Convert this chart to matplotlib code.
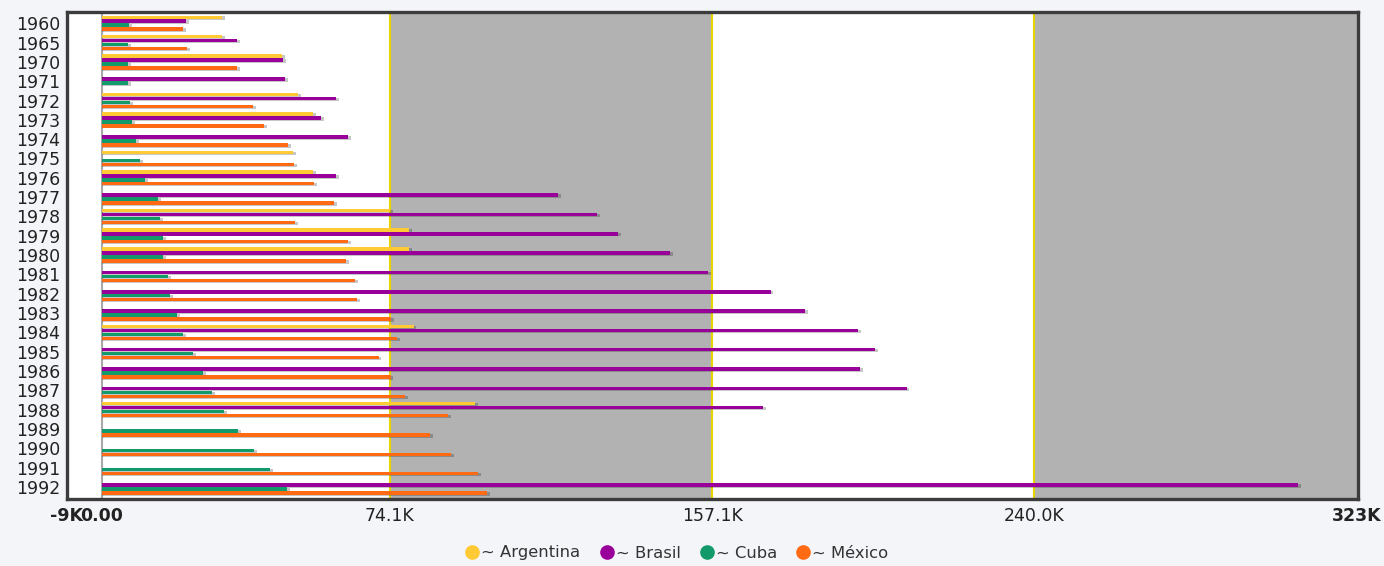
import numpy as np
import matplotlib.pyplot as plt
from matplotlib.lines import Line2D

# values in thousands, None = no bar for that year
years = ["1960", "1965", "1970", "1971", "1972", "1973", "1974", "1975", "1976",
         "1977", "1978", "1979", "1980", "1981", "1982", "1983", "1984", "1985",
         "1986", "1987", "1988", "1989", "1990", "1991", "1992"]

argentina = [30.9, 30.9, 46.4, None, 50.5, 54.3, None, 49.2, 54.3,
             None, 74.1, 79.1, 79.1, None, None, None, 80.2, None,
             None, None, 96.0, None, None, None, None]
brasil = [21.7, 34.8, 46.6, 47.1, 60.3, 56.4, 63.4, None, 60.3,
          117.5, 127.4, 132.9, 146.2, 156.1, 172.1, 181.0, 194.7, 199.0,
          195.1, 207.1, 170.2, None, None, None, 307.9]
cuba = [7.0, 6.7, 6.7, 6.7, 7.3, 7.8, 8.8, 9.8, 11.1,
        14.5, 15.0, 15.7, 15.7, 17.0, 17.5, 19.4, 20.9, 23.5,
        26.0, 28.3, 31.4, 35.0, 39.2, 43.3, 47.6]
mexico = [20.9, 21.9, 34.8, None, 38.9, 41.7, 47.9, 49.5, 54.6,
          59.8, 49.7, 63.4, 62.8, 65.2, 65.7, 74.5, 76.0, 71.2,
          74.3, 78.0, 89.2, 84.4, 89.9, 96.8, 99.1]

series_names = ["~ Argentina", "~ Brasil", "~ Cuba", "~ México"]
series_colors = ["#ffca33", "#990099", "#139a6b", "#ff6a13"]

x_ticks = [-9, 0, 74.1, 157.1, 240.0, 323]
x_labels = ["-9K", "0.00", "74.1K", "157.1K", "240.0K", "323K"]
bold_ticks = {"-9K", "0.00", "323K"}


def main():
    fig = plt.figure(figsize=(13.84, 5.66), dpi=100)
    fig.patch.set_facecolor("#f4f5f9")
    ax = fig.add_axes([0.0484, 0.1184, 0.9328, 0.8604])
    ax.set_facecolor("white")

    x_min, x_max = -9, 323.3
    # alternating bands between the grid lines
    ax.axvspan(x_ticks[2], x_ticks[3], color="#b2b2b2", zorder=0, lw=0)
    ax.axvspan(x_ticks[4], x_max, color="#b2b2b2", zorder=0, lw=0)
    for xv in x_ticks[2:5]:
        ax.axvline(xv, color="#e8d200", lw=1.5, zorder=1)
    ax.axvline(0, color="#a8a8a8", lw=1.5, zorder=1)

    y = np.arange(len(years))
    offsets = [-0.308, -0.103, 0.103, 0.308]
    bar_h = 0.18
    all_series = [argentina, brasil, cuba, mexico]
    for vals, off, col in zip(all_series, offsets, series_colors):
        v = np.array(vals, dtype=float)
        ok = ~np.isnan(v)
        # soft drop shadow like the original renderer
        ax.barh(y[ok] + off + 0.05, v[ok] + 0.7, height=bar_h, left=0,
                color="#000000", alpha=0.22, lw=0, zorder=2)
        ax.barh(y[ok] + off, v[ok], height=bar_h, left=0,
                color=col, lw=0, zorder=3)

    ax.set_xlim(x_min, x_max)
    ax.set_ylim(24.62, -0.58)

    ax.set_yticks(y)
    ax.set_yticklabels(years, fontsize=12.5, color="#222222")
    ax.set_xticks(x_ticks)
    ax.set_xticklabels(x_labels, fontsize=12.5, color="#222222")
    for lbl in ax.get_xticklabels():
        if lbl.get_text() in bold_ticks:
            lbl.set_fontweight("bold")
    ax.tick_params(axis="both", length=0)
    ax.tick_params(axis="x", pad=6)
    ax.tick_params(axis="y", pad=5)

    for sp in ax.spines.values():
        sp.set_linewidth(2.4)
        sp.set_color("#3c3c3c")
        sp.set_zorder(5)

    handles = [Line2D([], [], ls="none", marker="o", markersize=9.5,
                      markerfacecolor=c, markeredgecolor=c) for c in series_colors]
    fig.legend(handles, series_names, loc="center", ncol=4,
               bbox_to_anchor=(677 / 1384, 1 - 553 / 566), frameon=False,
               fontsize=11.8, handlelength=0.8, handletextpad=0.15,
               columnspacing=1.2, labelcolor="#333333")

    fig.savefig("out.png", dpi=100, facecolor=fig.get_facecolor())


if __name__ == "__main__":
    main()
